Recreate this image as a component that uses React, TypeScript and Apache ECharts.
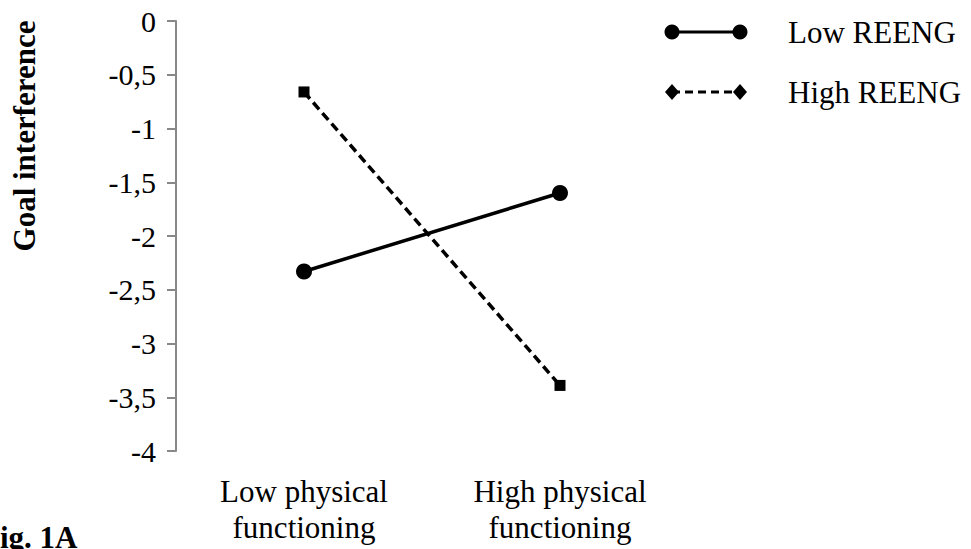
import React, { useEffect, useRef } from "react";
import * as echarts from "echarts";

const categories = ["Low physical\nfunctioning", "High physical\nfunctioning"];
const lowReeng = [-2.33, -1.6];
const highReeng = [-0.66, -3.39];
const seriesNames = ["Low REENG", "High REENG"];
const yTitle = "Goal interference";
const figLabel = "Fig. 1A";

const FONT = "'Liberation Serif', 'Times New Roman', serif";

export default function App() {
  const ref = useRef<HTMLDivElement>(null);
  useEffect(() => {
    document.body.style.margin = "0";
    const chart = echarts.init(ref.current!, null, { renderer: "svg" });
    chart.setOption({
      animation: false,
      backgroundColor: "#fff",
      grid: { left: 176, top: 21, width: 512, height: 430, containLabel: false },
      xAxis: {
        type: "category",
        data: categories,
        boundaryGap: true,
        axisLine: { show: false },
        axisTick: { show: false },
        axisLabel: {
          color: "#000",
          fontFamily: FONT,
          fontSize: 31,
          lineHeight: 36,
          margin: 22,
          interval: 0,
        },
      },
      yAxis: {
        type: "value",
        min: -4,
        max: 0,
        interval: 0.5,
        splitLine: { show: false },
        axisLine: { show: true, lineStyle: { color: "#888", width: 2 } },
        axisTick: { show: true, length: 9, lineStyle: { color: "#888", width: 2 } },
        axisLabel: {
          color: "#000",
          fontFamily: FONT,
          fontSize: 30,
          margin: 20,
          formatter: (v: number) => String(v).replace(".", ","),
        },
      },
      graphic: [
        {
          type: "text",
          x: 24,
          y: 136,
          rotation: Math.PI / 2,
          style: {
            text: yTitle,
            font: `bold 31px ${FONT}`,
            fill: "#000",
            align: "center",
            verticalAlign: "middle",
          },
        },
        {
          type: "text",
          x: -19,
          y: 522,
          style: { text: figLabel, font: `bold 31px ${FONT}`, fill: "#000", verticalAlign: "top" },
        },
        // legend row 1
        { type: "line", shape: { x1: 672, y1: 32, x2: 740, y2: 32 }, style: { stroke: "#000", lineWidth: 3 } },
        { type: "circle", shape: { cx: 672, cy: 32, r: 7.5 }, style: { fill: "#000" } },
        { type: "circle", shape: { cx: 740, cy: 32, r: 7.5 }, style: { fill: "#000" } },
        {
          type: "text",
          x: 788,
          y: 32,
          style: { text: seriesNames[0], font: `31px ${FONT}`, fill: "#000", verticalAlign: "middle" },
        },
        // legend row 2
        {
          type: "line",
          shape: { x1: 672, y1: 92, x2: 740, y2: 92 },
          style: { stroke: "#000", lineWidth: 3, lineDash: [8, 5] },
        },
        { type: "polygon", shape: { points: [[672, 84], [679, 92], [672, 100], [665, 92]] }, style: { fill: "#000" } },
        { type: "polygon", shape: { points: [[740, 84], [747, 92], [740, 100], [733, 92]] }, style: { fill: "#000" } },
        {
          type: "text",
          x: 788,
          y: 92,
          style: { text: seriesNames[1], font: `31px ${FONT}`, fill: "#000", verticalAlign: "middle" },
        },
      ],
      series: [
        {
          name: seriesNames[0],
          type: "line",
          data: lowReeng,
          symbol: "circle",
          symbolSize: 16,
          itemStyle: { color: "#000" },
          lineStyle: { color: "#000", width: 3.5 },
        },
        {
          name: seriesNames[1],
          type: "line",
          data: highReeng,
          symbol: "rect",
          symbolSize: 11,
          itemStyle: { color: "#000" },
          lineStyle: { color: "#000", width: 3.5, type: [9, 5] },
        },
      ],
    });
    return () => chart.dispose();
  }, []);
  return <div ref={ref} style={{ position: "fixed", left: 0, top: 0, width: 971, height: 549 }} />;
}
